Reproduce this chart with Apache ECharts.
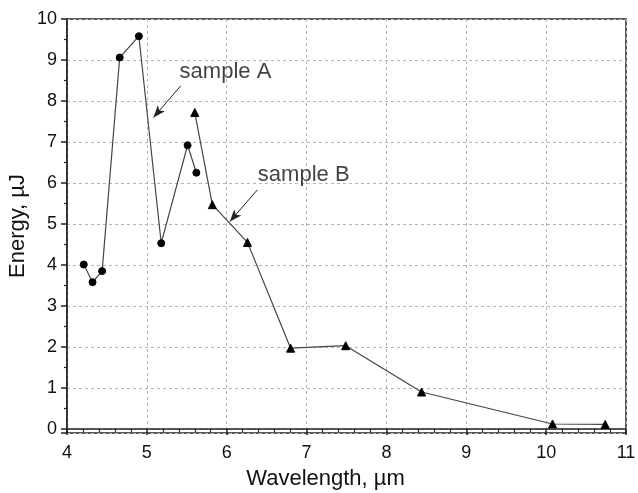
<!DOCTYPE html>
<html>
<head>
<meta charset="utf-8">
<script src="https://cdn.jsdelivr.net/npm/echarts@6/dist/echarts.min.js"></script>
<style>html,body{margin:0;padding:0;background:#fff;}#c{width:638px;height:493px;}</style>
</head>
<body>
<div id="c"></div>
<script>
// Sample A (circles)
const sampleA_x = [4.21, 4.32, 4.44, 4.66, 4.90, 5.18, 5.51, 5.62];
const sampleA_y = [4.01, 3.58, 3.85, 9.06, 9.58, 4.53, 6.92, 6.25];
// Sample B (triangles)
const sampleB_x = [5.60, 5.82, 6.26, 6.80, 7.49, 8.44, 10.08, 10.74];
const sampleB_y = [7.72, 5.47, 4.55, 1.97, 2.03, 0.90, 0.12, 0.11];
// Annotations: text anchor and arrow [from, to] in data units
const labelTexts = ['sample A', 'sample B'];
const labelPos = [[5.41, 8.70], [6.39, 6.20]];
const arrowFrom = [[5.425, 8.37], [6.383, 5.83]];
const arrowTo = [[5.083, 7.60], [6.04, 5.06]];
const xTicks = [4, 5, 6, 7, 8, 9, 10, 11];
const yTicks = [0, 1, 2, 3, 4, 5, 6, 7, 8, 9, 10];

const font = "'Liberation Sans', Arial, sans-serif";
const pairs = (xs, ys) => xs.map((x, i) => [x, ys[i]]);

const chart = echarts.init(document.getElementById('c'), null, {renderer: 'canvas'});
chart.setOption({
  animation: false,
  backgroundColor: '#ffffff',
  grid: {left: 67, right: 12, top: 19, bottom: 60, containLabel: false, outerBoundsMode: 'none',
    show: true, borderColor: '#222', borderWidth: 1.5, backgroundColor: 'transparent'},
  xAxis: {
    type: 'value', min: xTicks[0], max: xTicks[xTicks.length - 1], interval: 1,
    name: 'Wavelength, \u00b5m', nameLocation: 'middle', nameGap: 35,
    nameTextStyle: {fontFamily: font, fontSize: 22, color: '#111', padding: [0, 42, 0, 0]},
    axisLine: {show: true, lineStyle: {color: '#222', width: 1.5}},
    axisTick: {show: true, inside: false, length: 6, lineStyle: {color: '#222', width: 1.5}},
    minorTick: {show: true, splitNumber: 5, length: 3, lineStyle: {color: '#222', width: 1.2}},
    axisLabel: {fontFamily: font, fontSize: 18, color: '#111', margin: 11},
    splitLine: {show: true, lineStyle: {color: '#b5b5b5', type: [3, 3], width: 1}}
  },
  yAxis: {
    type: 'value', min: -0.1, max: yTicks[yTicks.length - 1], splitNumber: 10,
    name: 'Energy, \u00b5J', nameLocation: 'middle', nameGap: 38, nameMoveOverlap: false,
    nameTextStyle: {fontFamily: font, fontSize: 22, color: '#111'},
    axisLine: {show: true, lineStyle: {color: '#222', width: 1.5}},
    axisTick: {show: true, inside: false, length: 6, lineStyle: {color: '#222', width: 1.5}},
    minorTick: {show: true, splitNumber: 2, length: 3, lineStyle: {color: '#222', width: 1.2}},
    axisLabel: {fontFamily: font, fontSize: 18, color: '#111', margin: 10, showMinLabel: false,
      formatter: v => (v < -0.01 ? '' : String(Math.round(v)))},
    splitLine: {show: true, lineStyle: {color: '#b5b5b5', type: [3, 3], width: 1}}
  },
  series: [
    {
      type: 'line', data: pairs(sampleA_x, sampleA_y),
      symbol: 'circle', symbolSize: 7,
      lineStyle: {color: '#444', width: 1.2},
      itemStyle: {color: '#000', borderColor: '#000'},
      z: 3,
      markLine: {
        silent: true, symbol: ['none', 'arrow'], symbolSize: [7, 12],
        lineStyle: {color: '#222', width: 1, type: 'solid'},
        label: {show: false},
        data: arrowFrom.map((f, i) => [{coord: f}, {coord: arrowTo[i]}])
      }
    },
    {
      type: 'line', data: pairs(sampleB_x, sampleB_y),
      symbol: 'triangle', symbolSize: 8,
      lineStyle: {color: '#444', width: 1.2},
      itemStyle: {color: '#000', borderColor: '#000'},
      z: 3
    },
    {
      type: 'scatter', symbolSize: 0, silent: true,
      data: labelPos.map((p, i) => ({value: p, name: labelTexts[i]})),
      label: {show: true, position: 'right', distance: 0, formatter: p => p.name,
        fontFamily: font, fontSize: 22, color: '#111'}
    }
  ]
});
</script>
</body>
</html>
